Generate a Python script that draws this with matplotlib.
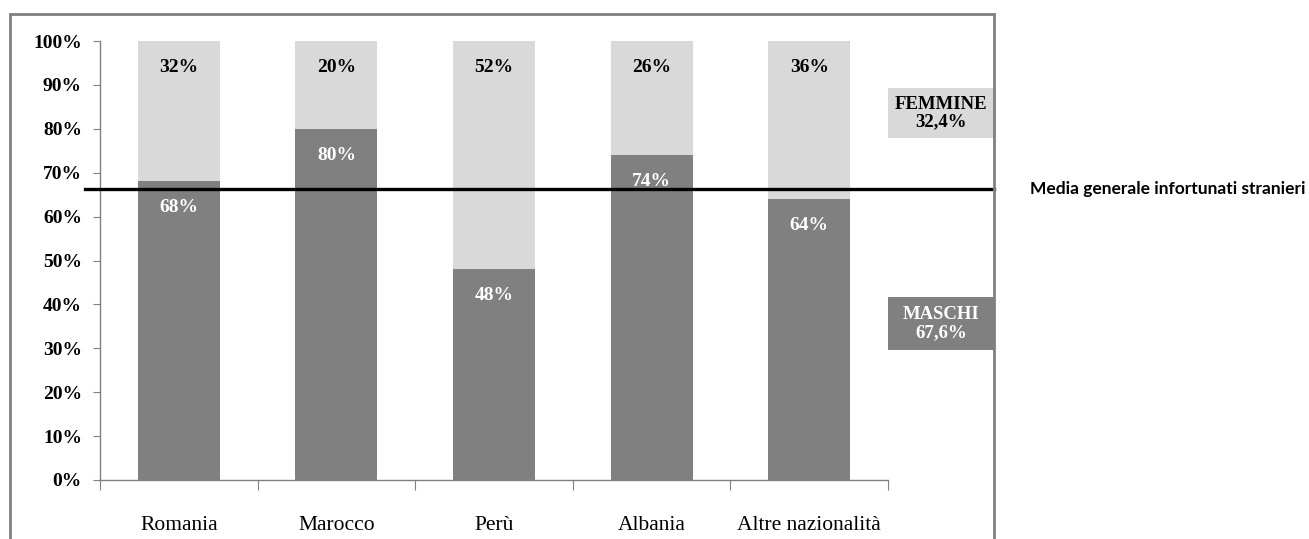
import numpy as np
import matplotlib.pyplot as plt
from matplotlib.patches import Rectangle

# quota maschi / femmine per nazionalita' (%)
paesi = ['Romania', 'Marocco', 'Perù', 'Albania', 'Altre nazionalità']
maschi = [68, 80, 48, 74, 64]
femmine = [32, 20, 52, 26, 36]
media_maschi = 66.2          # linea della media generale
tot_maschi = '67,6%'
tot_femmine = '32,4%'

scuro = '#808080'
chiaro = '#d9d9d9'
serif = 'Liberation Serif'

fig = plt.figure(figsize=(13.09, 5.39), dpi=100)
W, H = 1309, 539
ax = fig.add_axes([100 / W, 59 / H, 788 / W, 439 / H])

# cornice grigia esterna
fig.patches.append(Rectangle((10 / W, -0.1), 984 / W, 1.1 - 14 / H,
                             transform=fig.transFigure, fill=False,
                             edgecolor='#808080', linewidth=2))

x = np.arange(len(paesi)) + 0.5
w = 0.52
ax.bar(x, maschi, w, color=scuro, zorder=2)
ax.bar(x, femmine, w, bottom=maschi, color=chiaro, zorder=2)

for xi, m, f in zip(x, maschi, femmine):
    ax.text(xi, m - 6, f'{m}%', ha='center', va='center', color='white',
            fontsize=14, fontweight='bold', family=serif, zorder=4)
    ax.text(xi, m + f - 6, f'{f}%', ha='center', va='center', color='black',
            fontsize=14, fontweight='bold', family=serif, zorder=4)

ax.set_xlim(0, len(paesi))
ax.set_ylim(0, 100)

# linea della media, prosegue fino alla cornice
ax.plot([-0.095, 5.673], [media_maschi, media_maschi], color='black',
        linewidth=2.4, clip_on=False, zorder=5)
fig.text(1030 / W, 1 - 189 / H, 'Media generale infortunati stranieri',
         ha='left', va='center', fontsize=12.5, fontweight='bold', family='Lato')

# riquadri totali
for y0, y1, col, txt, tcol in [(77.9, 89.3, chiaro, 'FEMMINE\n' + tot_femmine, 'black'),
                               (29.6, 41.7, scuro, 'MASCHI\n' + tot_maschi, 'white')]:
    ax.add_patch(Rectangle((5.0, y0), 0.673, y1 - y0, facecolor=col,
                           edgecolor='none', clip_on=False, zorder=3))
    ax.text(5.0 + 0.673 / 2, (y0 + y1) / 2, txt, ha='center', va='center',
            color=tcol, fontsize=13.5, fontweight='bold', family=serif,
            linespacing=1.05, zorder=4)

# assi
for s in ['top', 'right']:
    ax.spines[s].set_visible(False)
for s in ['left', 'bottom']:
    ax.spines[s].set_color('#808080')
    ax.spines[s].set_linewidth(1)

ax.set_yticks(np.arange(0, 101, 10))
ax.set_yticklabels([f'{v}%' for v in range(0, 101, 10)])
ax.tick_params(axis='y', direction='out', length=5, color='#808080',
               labelsize=14, pad=8)
for t in ax.get_yticklabels():
    t.set_family(serif)
    t.set_fontweight('bold')

ax.set_xticks(np.arange(0, len(paesi) + 1))
ax.set_xticklabels([])
ax.tick_params(axis='x', which='major', direction='out', length=7,
               color='#808080')
ax.set_xticks(x, minor=True)
ax.set_xticklabels(paesi, minor=True)
ax.tick_params(axis='x', which='minor', length=0, labelsize=15.5, pad=26)
for t in ax.get_xticklabels(minor=True):
    t.set_family(serif)

fig.savefig('out.png', dpi=100)
